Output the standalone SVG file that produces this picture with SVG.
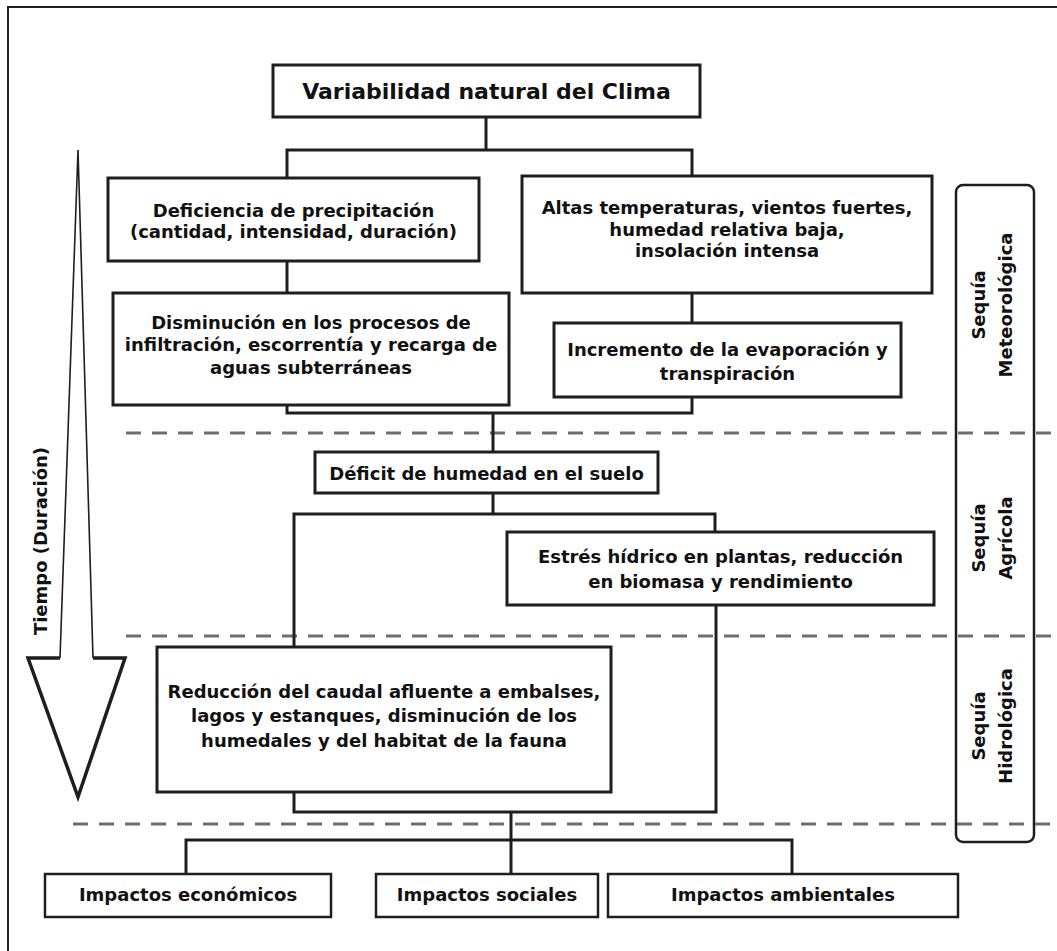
<svg xmlns="http://www.w3.org/2000/svg" width="1057" height="951" viewBox="0 0 1057 951">
<style>
.box{fill:#fff;stroke:#1e1e1e;stroke-width:3}
.sm{fill:#fff;stroke:#1e1e1e;stroke-width:2.5}
.t{font-family:"DejaVu Sans","Verdana",sans-serif;font-weight:bold;font-size:18px;fill:#111;text-anchor:middle}
.big{font-size:22px}
.con{fill:none;stroke:#1e1e1e;stroke-width:3}
.dash{fill:none;stroke:#6e6e6e;stroke-width:3;stroke-dasharray:15 11}
</style>
<rect width="1057" height="951" fill="#fff"/>
<path d="M8,951 V7 H1057" fill="none" stroke="#1e1e1e" stroke-width="2"/>

<g id="arrow-time">
<path d="M60,658 L78,150 L93,658" fill="none" stroke="#1e1e1e" stroke-width="1.6"/>
<path d="M60,658 H28 L78,797 L125,658 H93" fill="none" stroke="#1e1e1e" stroke-width="3.5" stroke-linejoin="miter"/>
<text class="t" transform="translate(47,541) rotate(-90)">Tiempo (Duración)</text>
</g>

<g id="sidebar">
<rect x="956" y="185" width="78" height="657" rx="7" fill="none" stroke="#1e1e1e" stroke-width="2.5"/>
<text class="t" transform="translate(985,305) rotate(-90)"><tspan x="0" y="0">Sequía</tspan><tspan x="0" y="27">Meteorológica</tspan></text>
<text class="t" transform="translate(985,538) rotate(-90)"><tspan x="0" y="0">Sequía</tspan><tspan x="0" y="27">Agrícola</tspan></text>
<text class="t" transform="translate(985,726) rotate(-90)"><tspan x="0" y="0">Sequía</tspan><tspan x="0" y="27">Hidrológica</tspan></text>
</g>

<g id="dividers">
<path class="dash" d="M126,433 H1052"/>
<path class="dash" d="M126,636 H1052"/>
<path class="dash" d="M73,824 H1052"/>
</g>

<g id="connectors">
<path class="con" d="M486,117 V150 M287,178 V150 H692 V176"/>
<path class="con" d="M287,261 V293"/>
<path class="con" d="M692,293 V323"/>
<path class="con" d="M287,405 V413 H692 V397 M493,413 V452"/>
<path class="con" d="M493,493 V514 M294,647 V514 H715 V532"/>
<path class="con" d="M294,792 V812 H716 V605 M511,812 V874"/>
<path class="con" d="M186,874 V840 H792 V874"/>
</g>

<g id="n-variabilidad">
<rect class="box" x="273" y="65" width="427" height="52"/>
<text class="t big" x="486.5" y="99">Variabilidad natural del Clima</text>
</g>
<g id="n-deficiencia">
<rect class="box" x="108" y="178" width="371" height="83"/>
<text class="t" x="293.5" y="217">Deficiencia de precipitación</text>
<text class="t" x="293.5" y="238">(cantidad, intensidad, duración)</text>
</g>
<g id="n-altas">
<rect class="box" x="522" y="176" width="410" height="117"/>
<text class="t" x="727" y="214">Altas temperaturas, vientos fuertes,</text>
<text class="t" x="727" y="236">humedad relativa baja,</text>
<text class="t" x="727" y="257">insolación intensa</text>
</g>
<g id="n-disminucion">
<rect class="box" x="113" y="293" width="396" height="112"/>
<text class="t" x="311" y="329">Disminución en los procesos de</text>
<text class="t" x="311" y="351">infiltración, escorrentía y recarga de</text>
<text class="t" x="311" y="374">aguas subterráneas</text>
</g>
<g id="n-incremento">
<rect class="box" x="554" y="323" width="347" height="74"/>
<text class="t" x="727.5" y="356">Incremento de la evaporación y</text>
<text class="t" x="727.5" y="380">transpiración</text>
</g>
<g id="n-deficit">
<rect class="box" x="315" y="452" width="343" height="41"/>
<text class="t" x="486.5" y="480">Déficit de humedad en el suelo</text>
</g>
<g id="n-estres">
<rect class="box" x="507" y="532" width="427" height="73"/>
<text class="t" x="720.5" y="563">Estrés hídrico en plantas, reducción</text>
<text class="t" x="720.5" y="588">en biomasa y rendimiento</text>
</g>
<g id="n-reduccion">
<rect class="box" x="157" y="647" width="454" height="145"/>
<text class="t" x="384" y="698">Reducción del caudal afluente a embalses,</text>
<text class="t" x="384" y="722">lagos y estanques, disminución de los</text>
<text class="t" x="384" y="747">humedales y del habitat de la fauna</text>
</g>
<g id="n-economicos">
<rect class="sm" x="45" y="874" width="286" height="43"/>
<text class="t" x="188" y="901">Impactos económicos</text>
</g>
<g id="n-sociales">
<rect class="sm" x="376" y="874" width="222" height="43"/>
<text class="t" x="487" y="901">Impactos sociales</text>
</g>
<g id="n-ambientales">
<rect class="sm" x="608" y="874" width="350" height="43"/>
<text class="t" x="783" y="901">Impactos ambientales</text>
</g>
</svg>
